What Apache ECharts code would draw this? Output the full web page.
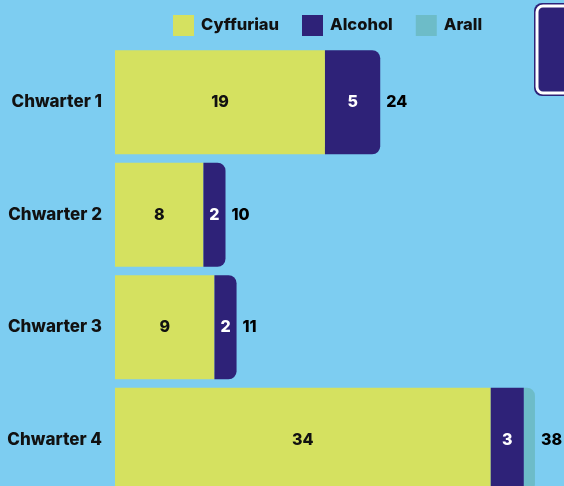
<!DOCTYPE html>
<html><head><meta charset="utf-8">
<script src="https://cdn.jsdelivr.net/npm/echarts@6/dist/echarts.min.js"></script>
<style>html,body{margin:0;padding:0;background:#7dcdf1;}#c{width:564px;height:486px;}</style>
</head><body><div id="c"></div>
<script>
const categories = ['Chwarter 1','Chwarter 2','Chwarter 3','Chwarter 4'];
const cyffuriau = [19, 8, 9, 34];
const alcohol = [5, 2, 2, 3];
const arall = [0, 0, 0, 1];
const seriesNames = ['Cyffuriau','Alcohol','Arall'];
const totals = categories.map((c,i)=>cyffuriau[i]+alcohol[i]+arall[i]);

const colors = ['#d5e160','#2e2278','#6dbcc8'];
const font = 'Inter, "Noto Sans", sans-serif';
const all = [cyffuriau, alcohol, arall];
function lastIdx(i){ let l=0; all.forEach((a,k)=>{ if(a[i]>0) l=k; }); return l; }
function mk(k){
  return all[k].map((v,i)=>({
    value: v,
    itemStyle: { borderRadius: lastIdx(i)===k ? [0,8,8,0] : 0 }
  }));
}
const chart = echarts.init(document.getElementById('c'));
chart.setOption({
  backgroundColor: '#7dcdf1',
  animation: false,
  legend: {
    top: 15, left: 173, padding: 0, itemWidth: 21, itemHeight: 21, itemGap: 23,
    icon: 'rect',
    textStyle: { fontFamily: font, fontWeight: 800, fontSize: 16.5, color: '#111', padding:[0,0,0,2] },
    data: seriesNames
  },
  grid: { left: 115, width: 449, top: 46, height: 450, containLabel: false, outerBoundsMode: 'none' },
  xAxis: { type: 'value', min: 0, max: 40.63, show: false },
  yAxis: {
    type: 'category', data: categories, inverse: true,
    axisLine: {show:false}, axisTick: {show:false}, splitLine:{show:false},
    axisLabel: { margin: 13, fontFamily: font, fontWeight: 800, fontSize: 17, color: '#111' }
  },
  series: [
    { name: seriesNames[0], type: 'bar', stack: 't', barCategoryGap: '7.5%', data: mk(0),
      itemStyle: { color: colors[0] },
      label: { show: true, position: 'inside', color: '#111', fontFamily: font, fontWeight: 800, fontSize: 16 } },
    { name: seriesNames[1], type: 'bar', stack: 't', data: mk(1),
      itemStyle: { color: colors[1] },
      label: { show: true, position: 'inside', color: '#fff', fontFamily: font, fontWeight: 800, fontSize: 16 } },
    { name: seriesNames[2], type: 'bar', stack: 't', data: mk(2),
      itemStyle: { color: colors[2] },
      label: { show: false } },
    { type: 'scatter', data: totals.map((t,i)=>[t, categories[i]]), symbolSize: 0, silent: true,
      itemStyle: { opacity: 1 },
      label: { show: true, position: 'right', distance: 6, formatter: p => p.value[0],
        color: '#000', fontFamily: font, fontWeight: 800, fontSize: 16 } }
  ],
  graphic: [
    { type: 'rect', shape: { x: 534, y: 3, width: 80, height: 93, r: 8 }, style: { fill: '#2e2278' } },
    { type: 'rect', shape: { x: 537, y: 6, width: 80, height: 87, r: 6 }, style: { fill: '#2e2278', stroke: '#ffffff', lineWidth: 3 } }
  ]
});
</script></body></html>
